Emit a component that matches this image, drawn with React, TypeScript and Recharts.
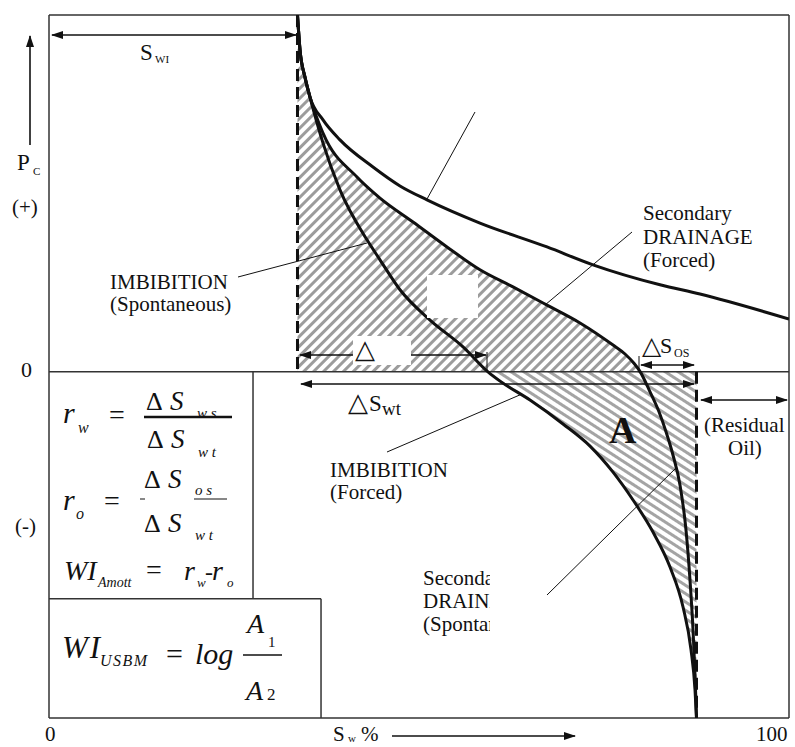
import React from 'react';
import { ComposedChart, Line, Area, XAxis, YAxis, ReferenceLine } from 'recharts';

// ---- data (Sw in %, Pc in relative units; +100 top of frame, -97 bottom) ----
const swIrreducible = 33.58;
const swResidualOil = 87.5;

const drainageX = [33.58, 33.92, 34.59, 35.27, 37.03, 39.32, 43.78, 47.43, 51.08, 58.24, 67.3, 73.51, 82.57, 87.97, 100];
const drainageY = [100, 90.2, 82.6, 77.0, 70.6, 65.0, 57.4, 52.1, 48.2, 41.7, 35.0, 30.0, 24.4, 21.8, 14.8];

const secondaryX = [33.58, 33.92, 34.59, 35.27, 37.03, 41.62, 44.73, 49.19, 53.78, 58.24, 62.7, 67.3, 71.76, 76.22, 77.84, 79.05, 79.9, 81.22, 82.43, 83.38, 84.32, 85.27, 86.08, 86.62, 87.03, 87.3, 87.5];
const secondaryY = [100, 90.2, 82.6, 77.0, 66.9, 54.6, 48.7, 42.0, 35.0, 28.6, 23.8, 18.7, 13.7, 7.5, 5.0, 2.4, 0, -5.6, -11.2, -16.8, -23.3, -31.7, -44.3, -58.3, -72.3, -84.9, -97];

const imbibitionX = [33.58, 33.92, 34.59, 35.27, 37.03, 39.32, 42.97, 44.73, 47.43, 51.49, 55.95, 59.32, 60.95, 65.0, 69.46, 73.11, 76.22, 78.92, 81.62, 83.92, 85.68, 86.76, 87.3, 87.5];
const imbibitionY = [100, 90.2, 82.6, 77.0, 64.1, 51.0, 37.0, 31.4, 23.0, 14.5, 7.0, 0, -2.6, -7.9, -14.6, -20.8, -28.1, -35.9, -44.9, -54.7, -65.9, -77.9, -89.1, -97];

const xDomain = [0, 100];
const yDomain = [-97, 100];
const box1Right = 27.57;
const box2Right = 36.76;
const boxSplitY = -63.6;

// ---- tables built from the arrays ----
const toRows = (xs: number[], ys: number[]) => xs.map((x, i) => ({ x, y: ys[i] }));
const drainage = toRows(drainageX, drainageY);
const secondary = toRows(secondaryX, secondaryY);
const imbibition = toRows(imbibitionX, imbibitionY);
const upperHatch = secondary.filter((d) => d.y >= 0);
const lowerHatch = imbibition.filter((d) => d.y <= 0).map((d) => ({ x: d.x, band: [d.y, 0] }));

const W = 795;
const H = 747;
const M = { top: 15, right: 6, bottom: 29, left: 49 };
const serif = '"Liberation Serif", "Times New Roman", serif';
const tri = '"DejaVu Sans", sans-serif';
const ink = '#111';

const T = (p: any) => {
  const { children, ...rest } = p;
  return (
    <text fontFamily={serif} fill={ink} {...rest}>
      {children}
    </text>
  );
};

function Overlay() {
  const arrow = { stroke: ink, strokeWidth: 1.6 };
  const thin = { stroke: ink, strokeWidth: 1 };
  return (
    <svg width={W} height={H} style={{ position: 'absolute', left: 0, top: 0, pointerEvents: 'none' }}>
      <defs>
        <marker id="ah" viewBox="0 0 12 8" refX="11" refY="4" markerWidth="12" markerHeight="8" orient="auto-start-reverse" markerUnits="userSpaceOnUse">
          <path d="M0,0 L12,4 L0,8 Z" fill={ink} />
        </marker>
        <clipPath id="clipSpont">
          <rect x="400" y="550" width="90" height="100" />
        </clipPath>
      </defs>

      {/* white blank inside hatch */}
      <rect x={427} y={275} width={51} height={43} fill="#fff" />

      {/* arrows */}
      <line x1={52} y1={35} x2={296} y2={35} {...arrow} markerStart="url(#ah)" markerEnd="url(#ah)" />
      <line x1={30} y1={145} x2={30} y2={36} {...arrow} markerEnd="url(#ah)" />
      <line x1={300} y1={355} x2={486} y2={355} {...arrow} markerStart="url(#ah)" markerEnd="url(#ah)" />
      <line x1={487} y1={352} x2={487} y2={372} {...thin} />
      <rect x={353} y={336} width={58} height={29} fill="#fff" />
      <T x={355} y={358} fontSize={26} fontFamily={tri}>△</T>
      <line x1={641} y1={365} x2={694} y2={365} {...arrow} markerStart="url(#ah)" markerEnd="url(#ah)" />
      <line x1={639} y1={356} x2={639} y2={372} {...thin} />
      <line x1={301} y1={384} x2={694} y2={384} {...arrow} markerStart="url(#ah)" markerEnd="url(#ah)" />
      <line x1={701} y1={400} x2={787} y2={400} {...arrow} markerStart="url(#ah)" markerEnd="url(#ah)" />
      <line x1={392} y1={736} x2={575} y2={736} {...arrow} markerEnd="url(#ah)" />

      {/* pointer lines */}
      <line x1={238} y1={277} x2={367} y2={243} {...thin} />
      <line x1={475} y1={112} x2={427} y2={199} {...thin} />
      <line x1={632} y1={232} x2={545} y2={305} {...thin} />
      <line x1={387} y1={452} x2={522} y2={394} {...thin} />
      <line x1={547} y1={595} x2={677} y2={467} {...thin} />

      {/* axis-like labels */}
      <T x={140} y={60} fontSize={23}>S</T>
      <T x={155} y={63} fontSize={11}>WI</T>
      <T x={17} y={170} fontSize={23}>P</T>
      <T x={33} y={175} fontSize={11}>C</T>
      <T x={12} y={214} fontSize={21}>(+)</T>
      <T x={21} y={377} fontSize={22}>0</T>
      <T x={15} y={533} fontSize={21}>(-)</T>
      <T x={45} y={741} fontSize={21}>0</T>
      <T x={756} y={741} fontSize={21}>100</T>
      <T x={333} y={741} fontSize={21}>S</T>
      <T x={348} y={742} fontSize={11}>w</T>
      <T x={361} y={741} fontSize={21}>%</T>

      {/* delta labels */}
      <T x={642} y={354} fontSize={25} fontFamily={tri}>△</T>
      <T x={660} y={353} fontSize={22}>S</T>
      <T x={674} y={357} fontSize={12}>OS</T>
      <T x={348} y={411} fontSize={26} fontFamily={tri}>△</T>
      <T x={369} y={411} fontSize={23}>S</T>
      <T x={382} y={415} fontSize={19}>wt</T>

      {/* curve labels */}
      <T x={110} y={289} fontSize={21}>IMBIBITION</T>
      <T x={110} y={311} fontSize={21}>(Spontaneous)</T>
      <T x={643} y={220} fontSize={21}>Secondary</T>
      <T x={643} y={244} fontSize={21}>DRAINAGE</T>
      <T x={643} y={267} fontSize={21}>(Forced)</T>
      <T x={330} y={477} fontSize={21}>IMBIBITION</T>
      <T x={330} y={499} fontSize={21}>(Forced)</T>
      <g clipPath="url(#clipSpont)">
        <T x={423} y={585} fontSize={21}>Secondary</T>
        <T x={423} y={608} fontSize={21}>DRAINAGE</T>
        <T x={423} y={631} fontSize={21}>(Spontaneous)</T>
      </g>
      <T x={704} y={432} fontSize={21}>(Residual</T>
      <T x={728} y={455} fontSize={21}>Oil)</T>
      <T x={609} y={443} fontSize={38} fontWeight="bold">A</T>

      {/* formula box 1 */}
      <T x={63} y={423} fontSize={30} fontStyle="italic">r</T>
      <T x={78} y={433} fontSize={16} fontStyle="italic">w</T>
      <T x={109} y={424} fontSize={28}>=</T>
      <T x={146} y={410} fontSize={26}>Δ</T>
      <T x={170} y={410} fontSize={27} fontStyle="italic">S</T>
      <T x={197} y={418} fontSize={15} fontStyle="italic">w s</T>
      <line x1={144} y1={417} x2={232} y2={417} stroke={ink} strokeWidth={2.5} />
      <T x={147} y={448} fontSize={26}>Δ</T>
      <T x={171} y={448} fontSize={27} fontStyle="italic">S</T>
      <T x={198} y={457} fontSize={15} fontStyle="italic">w t</T>

      <T x={63} y={510} fontSize={30} fontStyle="italic">r</T>
      <T x={76} y={519} fontSize={16} fontStyle="italic">o</T>
      <T x={104} y={510} fontSize={28}>=</T>
      <line x1={140} y1={499} x2={145} y2={499} stroke={ink} strokeWidth={1} />
      <T x={144} y={488} fontSize={26}>Δ</T>
      <T x={168} y={488} fontSize={27} fontStyle="italic">S</T>
      <T x={195} y={495} fontSize={15} fontStyle="italic">o s</T>
      <line x1={194} y1={499} x2={227} y2={499} stroke={ink} strokeWidth={1.2} />
      <T x={144} y={532} fontSize={26}>Δ</T>
      <T x={168} y={532} fontSize={27} fontStyle="italic">S</T>
      <T x={195} y={540} fontSize={15} fontStyle="italic">w t</T>

      <T x={64} y={580} fontSize={28} fontStyle="italic">WI</T>
      <T x={98} y={587} fontSize={14} fontStyle="italic">Amott</T>
      <T x={146} y={579} fontSize={28}>=</T>
      <T x={184} y={580} fontSize={28} fontStyle="italic">r</T>
      <T x={197} y={587} fontSize={13} fontStyle="italic">w</T>
      <T x={205} y={580} fontSize={24}>-</T>
      <T x={212} y={580} fontSize={28} fontStyle="italic">r</T>
      <T x={227} y={587} fontSize={13} fontStyle="italic">o</T>

      {/* formula box 2 */}
      <T x={62} y={658} fontSize={31} fontStyle="italic" letterSpacing={2}>WI</T>
      <T x={100} y={666} fontSize={16} fontStyle="italic" letterSpacing={1.5}>USBM</T>
      <T x={166} y={664} fontSize={30}>=</T>
      <T x={195} y={664} fontSize={30} fontStyle="italic">log</T>
      <T x={247} y={633} fontSize={28} fontStyle="italic">A</T>
      <T x={268} y={647} fontSize={15}>1</T>
      <line x1={243} y1={655} x2={282} y2={655} stroke={ink} strokeWidth={1.5} />
      <T x={246} y={700} fontSize={28} fontStyle="italic">A</T>
      <T x={267} y={700} fontSize={17}>2</T>
    </svg>
  );
}

export default function App() {
  const frame = { stroke: '#333', strokeWidth: 1.5, ifOverflow: 'visible' as const };
  const curve = { type: 'monotone' as const, stroke: ink, strokeWidth: 3, dot: false, activeDot: false, isAnimationActive: false, dataKey: 'y' };
  return (
    <div style={{ position: 'absolute', left: 0, top: 0, width: W, height: H, background: '#fff' }}>
      <svg width={0} height={0} style={{ position: 'absolute' }}>
        <defs>
          <pattern id="hatchUp" patternUnits="userSpaceOnUse" width="7" height="7" patternTransform="rotate(45)">
            <rect x="0" y="0" width="3" height="7" fill="#9c9c9c" />
          </pattern>
          <pattern id="hatchDown" patternUnits="userSpaceOnUse" width="7" height="7" patternTransform="rotate(-57)">
            <rect x="0" y="0" width="3" height="7" fill="#a4a4a4" />
          </pattern>
        </defs>
      </svg>
      <ComposedChart width={W} height={H} margin={M}>
        <XAxis type="number" dataKey="x" domain={xDomain} hide allowDataOverflow />
        <YAxis type="number" domain={yDomain} hide allowDataOverflow />
        <Area data={upperHatch} dataKey="y" type="monotone" baseValue={0} fill="url(#hatchUp)" fillOpacity={1} stroke="none" dot={false} activeDot={false} isAnimationActive={false} />
        <Area data={lowerHatch} dataKey="band" type="monotone" fill="url(#hatchDown)" fillOpacity={1} stroke="none" dot={false} activeDot={false} isAnimationActive={false} />
        <ReferenceLine x={xDomain[0]} {...frame} />
        <ReferenceLine x={xDomain[1]} {...frame} />
        <ReferenceLine y={yDomain[0]} {...frame} />
        <ReferenceLine y={yDomain[1]} {...frame} />
        <ReferenceLine y={0} {...frame} />
        <ReferenceLine segment={[{ x: box1Right, y: 0 }, { x: box1Right, y: boxSplitY }]} {...frame} />
        <ReferenceLine segment={[{ x: 0, y: boxSplitY }, { x: box2Right, y: boxSplitY }]} {...frame} />
        <ReferenceLine segment={[{ x: box2Right, y: boxSplitY }, { x: box2Right, y: yDomain[0] }]} {...frame} />
        <ReferenceLine segment={[{ x: swIrreducible, y: yDomain[1] }, { x: swIrreducible, y: 0 }]} stroke={ink} strokeWidth={3} strokeDasharray="12 6" />
        <ReferenceLine segment={[{ x: swResidualOil, y: 0 }, { x: swResidualOil, y: yDomain[0] }]} stroke={ink} strokeWidth={3} strokeDasharray="12 6" />
        <Line data={drainage} {...curve} />
        <Line data={secondary} {...curve} />
        <Line data={imbibition} {...curve} />
      </ComposedChart>
      <Overlay />
    </div>
  );
}
